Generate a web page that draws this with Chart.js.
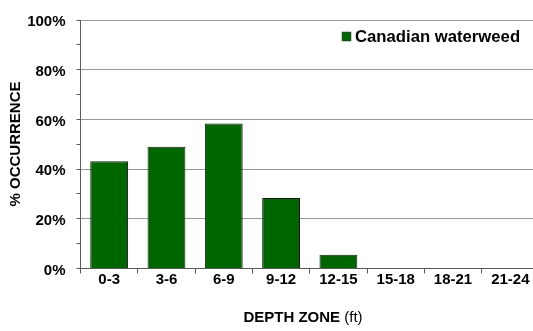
<!DOCTYPE html>
<html>
<head>
<meta charset="utf-8">
<script src="https://cdn.jsdelivr.net/npm/chart.js@4/dist/chart.umd.min.js"></script>
<style>
  html, body { margin: 0; padding: 0; background: #fff; overflow: hidden; width: 533px; height: 331px; }
  #wrap { position: relative; width: 545px; height: 331px; }
</style>
</head>
<body>
<div id="wrap"><canvas id="c" width="545" height="331"></canvas></div>
<script>
// Depth zones (ft) and share of sample points where the plant was found
const depthZones = ['0-3', '3-6', '6-9', '9-12', '12-15', '15-18', '18-21', '21-24'];
const occurrence = [43.2, 49.0, 58.3, 28.4, 5.5, 0, 0, 0];
const seriesName = 'Canadian waterweed';
const yMajorTicks = [0, 20, 40, 60, 80, 100];
const xTitleMain = 'DEPTH ZONE';
const xTitleUnit = ' (ft)';
const yTitle = '% OCCURRENCE';

const FONT = '"Liberation Sans", Arial, Helvetica, sans-serif';
const GRID = '#999999';
const AXIS = '#5a5a5a';
const BAR = '#006600';

// Axis titles and the legend box are drawn after the chart
const decorations = {
  id: 'decorations',
  afterDraw(chart) {
    const ctx = chart.ctx;
    ctx.save();
    ctx.fillStyle = '#000';
    ctx.textBaseline = 'middle';

    // x-axis title: bold label followed by a normal-weight unit
    const boldFont = 'bold 15px ' + FONT;
    const normFont = '15px ' + FONT;
    ctx.font = boldFont;
    const w1 = ctx.measureText(xTitleMain).width;
    ctx.font = normFont;
    const w2 = ctx.measureText(xTitleUnit).width;
    const cx = 303;
    const startX = cx - (w1 + w2) / 2;
    ctx.textAlign = 'left';
    ctx.font = boldFont;
    ctx.fillText(xTitleMain, startX, 318);
    ctx.font = normFont;
    ctx.fillText(xTitleUnit, startX + w1, 318);

    // y-axis title, rotated
    ctx.save();
    ctx.translate(16, 144);
    ctx.rotate(-Math.PI / 2);
    ctx.textAlign = 'center';
    ctx.font = 'bold 15px ' + FONT;
    ctx.fillText(yTitle, 0, 0);
    ctx.restore();

    // legend
    const ds = chart.data.datasets[0];
    ctx.fillStyle = ds.backgroundColor;
    ctx.fillRect(342, 32, 9, 9);
    ctx.strokeStyle = '#333';
    ctx.lineWidth = 0.5;
    ctx.strokeRect(342, 32, 9, 9);
    ctx.fillStyle = '#000';
    ctx.textAlign = 'left';
    ctx.font = 'bold 16.7px ' + FONT;
    ctx.fillText(ds.label, 355, 37.5);
    ctx.restore();
  }
};

new Chart(document.getElementById('c'), {
  type: 'bar',
  data: {
    labels: depthZones,
    datasets: [{
      label: seriesName,
      data: occurrence,
      backgroundColor: BAR,
      borderColor: '#1a1a1a',
      borderWidth: 1,
      categoryPercentage: 1,
      barPercentage: 0.66
    }]
  },
  options: {
    responsive: false,
    animation: false,
    devicePixelRatio: 1,
    layout: { padding: { top: 12, right: 6, left: 0, bottom: 0 } },
    plugins: { legend: { display: false }, tooltip: { enabled: false } },
    scales: {
      x: {
        offset: true,
        grid: { drawOnChartArea: false, drawTicks: true, tickLength: 5, color: AXIS },
        border: { display: true, color: AXIS, width: 1 },
        ticks: { color: '#000', font: { family: FONT, size: 15, weight: 'bold' }, padding: -3, maxRotation: 0, autoSkip: false },
        afterFit(scale) { scale.height = 62.5; }
      },
      y: {
        min: 0,
        max: 100,
        grid: {
          color: (c) => (yMajorTicks.includes(c.tick.value) ? GRID : 'rgba(0,0,0,0)'),
          tickColor: AXIS,
          tickLength: 4,
          drawTicks: true
        },
        border: { display: true, color: AXIS, width: 1 },
        ticks: {
          stepSize: 10,
          padding: 11,
          labelOffset: 2,
          color: '#000',
          font: { family: FONT, size: 15, weight: 'bold' },
          callback: (v) => (yMajorTicks.includes(v) ? v + '%' : '')
        },
        afterFit(scale) { scale.width = 80.5; }
      }
    }
  },
  plugins: [decorations]
});
</script>
</body>
</html>
